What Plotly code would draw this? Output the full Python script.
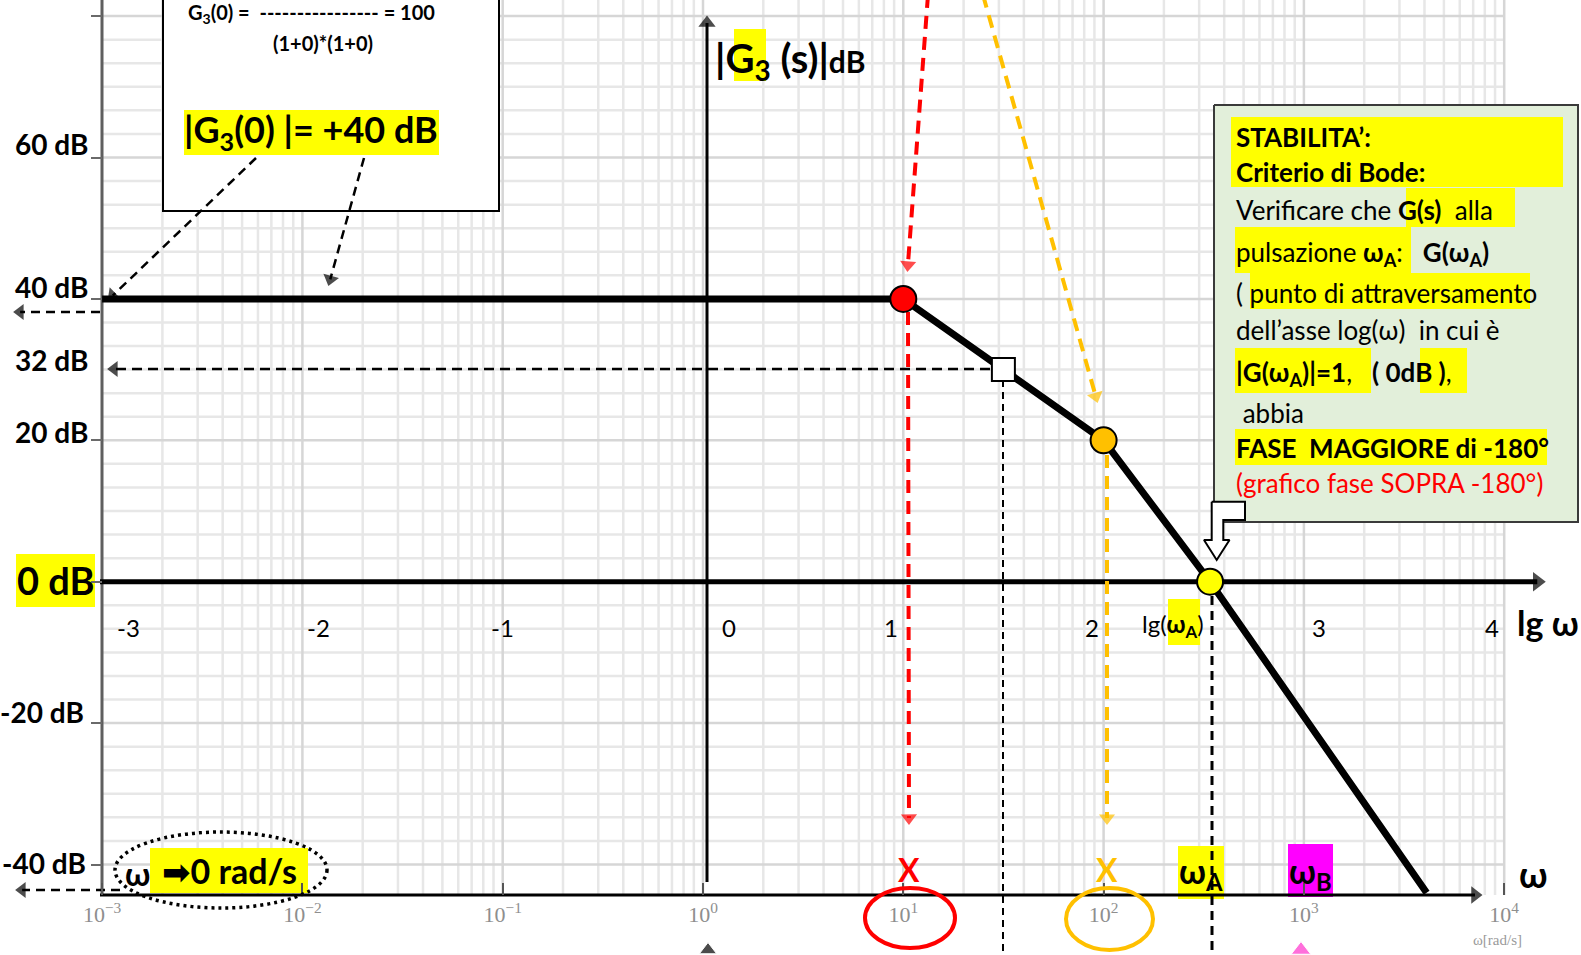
import math
import numpy as np
import plotly.graph_objects as go

# ---------------- data ----------------
omega_curve = [0.001, 10, 100, 340, 4100]        # rad/s
mag_curve_db = [40, 40, 20, 0, -44]              # |G3(jw)| asymptotic, dB

key_omega = [10, 100, 340]                        # break points and crossover wA
key_db = [40, 20, 0]
key_colors = ["#FF0000", "#FFC000", "#FFFF00"]

mid_omega = [31.6]                                # point read at ~32 dB
mid_db = [30]

decade_exp = [-3, -2, -1, 0, 1, 2, 3, 4]
decade_text = ["10<sup>−3</sup>", "10<sup>−2</sup>", "10<sup>−1</sup>", "10<sup>0</sup>",
               "10<sup>1</sup>", "10<sup>2</sup>", "10<sup>3</sup>", "10<sup>4</sup>"]
lg_text = ["-3", "-2", "-1", "0", "1", "2", "3", "4"]

db_tick_vals = [80, 60, 40, 20, 0, -20, -40]
db_label_vals = [60, 40, 32, 20, -20, -40]
db_label_text = ["60 dB", "40 dB", "32 dB", "20 dB", "-20 dB", "-40 dB"]
db_axis_min = -44.3

# ---------------- page geometry ----------------
W, H = 1581, 955
PX0, PPD = 703.0, 200.3     # pixel of 10^0, pixels per decade
PY0, PPDB = 581.7, 7.07     # pixel of 0 dB, pixels per dB


def X(px):
    return (px - PX0) / PPD


def Y(py):
    return (PY0 - py) / PPDB


xr = [X(0), X(W)]
yr = [Y(H), Y(0)]
FONT = "Lato, 'Noto Sans', 'DejaVu Sans', sans-serif"
SERIF = "'Liberation Serif', 'DejaVu Serif', serif"
NB = "\u00a0"

fig = go.Figure()

# ---------------- grid ----------------
gx_min, gy_min, gx_maj, gy_maj = [], [], [], []
for d in range(-3, 4):
    for m in range(2, 10):
        k = d + math.log10(m)
        gx_min += [k, k, None]
        gy_min += [db_axis_min, yr[1] + 1, None]
for k in decade_exp[1:]:
    gx_maj += [k, k, None]
    gy_maj += [db_axis_min, yr[1] + 1, None]
hx_min, hy_min, hx_maj, hy_maj = [], [], [], []
j = 0
while -40 + j * 10 / 3 <= yr[1]:
    v = -40 + j * 10 / 3
    if j % 6 == 0:
        hx_maj += [-3, 4, None]; hy_maj += [v, v, None]
    else:
        hx_min += [-3, 4, None]; hy_min += [v, v, None]
    j += 1
for gx, gy, col in [(gx_min, gy_min, "#e7e7e7"), (hx_min, hy_min, "#e7e7e7"),
                    (gx_maj, gy_maj, "#d6d6d6"), (hx_maj, hy_maj, "#d6d6d6")]:
    fig.add_trace(go.Scatter(x=gx, y=gy, mode="lines", line=dict(color=col, width=2.5),
                             hoverinfo="skip", showlegend=False))


def rect_trace(x0, y0, x1, y1, fill, lc=None, lw=0):
    fig.add_trace(go.Scatter(x=[X(x0), X(x1), X(x1), X(x0), X(x0)],
                             y=[Y(y0), Y(y0), Y(y1), Y(y1), Y(y0)],
                             mode="lines", fill="toself", fillcolor=fill,
                             line=dict(color=lc or fill, width=lw),
                             hoverinfo="skip", showlegend=False))


def poly_trace(pts, fill, lc, lw):
    xs = [X(p[0]) for p in pts] + [X(pts[0][0])]
    ys = [Y(p[1]) for p in pts] + [Y(pts[0][1])]
    fig.add_trace(go.Scatter(x=xs, y=ys, mode="lines", fill="toself", fillcolor=fill,
                             line=dict(color=lc, width=lw), hoverinfo="skip", showlegend=False))


def line_trace(p0, p1, color, width, dash="solid"):
    fig.add_trace(go.Scatter(x=[X(p0[0]), X(p1[0])], y=[Y(p0[1]), Y(p1[1])], mode="lines",
                             line=dict(color=color, width=width, dash=dash),
                             hoverinfo="skip", showlegend=False))


def arrow_trace(tail, tip, color, width, dash="solid", head=14):
    (x0, y0), (x1, y1) = tail, tip
    L = math.hypot(x1 - x0, y1 - y0)
    ux, uy = (x1 - x0) / L, (y1 - y0) / L
    cx, cy = x1 - 0.866 * head * ux, y1 - 0.866 * head * uy
    fig.add_trace(go.Scatter(x=[X(x0), X(cx)], y=[Y(y0), Y(cy)], mode="lines+markers",
                             line=dict(color=color, width=width, dash=dash),
                             marker=dict(symbol="triangle-up", size=[0, head], color=color,
                                         angleref="previous", line=dict(width=0)),
                             hoverinfo="skip", showlegend=False))


# ---------------- boxes and highlights ----------------
rect_trace(163, -10, 499, 211, "white", "black", 2)
rect_trace(184, 110, 439, 155, "#FFFF00")
rect_trace(734, 29, 766, 81, "#FFFF00")
rect_trace(16, 554, 95, 607, "#FFFF00")
rect_trace(150, 848, 308, 893, "#FFFF00")
rect_trace(1168, 599, 1200, 645, "#FFFF00")
rect_trace(1178, 846, 1224, 899, "#FFFF00")
rect_trace(1288, 844, 1333, 897, "#FF00FF")
# green note box
rect_trace(1214, 105, 1578, 522, "#E2EFDA", "#3a3a3a", 2)
rect_trace(1231, 117, 1563, 187, "#FFFF00")
rect_trace(1406, 188, 1515, 227, "#FFFF00")
rect_trace(1235, 227, 1411, 273, "#FFFF00")
rect_trace(1250, 273, 1530, 309, "#FFFF00")
rect_trace(1235, 348, 1371, 393, "#FFFF00")
rect_trace(1420, 348, 1467, 393, "#FFFF00")
rect_trace(1235, 429, 1547, 465, "#FFFF00")
# bent call-out arrow
poly_trace([(1211.7, 501.7), (1245, 501.7), (1245, 520), (1223.3, 520), (1223.3, 540),
            (1229.5, 540), (1216.7, 560), (1204, 540), (1211.7, 540)], "white", "black", 2)

# ---------------- axes ----------------
line_trace((102, -5), (102, 895), "#5f5f5f", 3)
arrow_trace((100, PY0), (1552, PY0), "black", 5, head=17)
arrow_trace((100, 895), (1488, 895), "black", 3, head=15)
arrow_trace((707, 882), (707, 10), "black", 3, head=15)

# ---------------- guide arrows ----------------
dsh = "9px,6px"
arrow_trace((256, 158), (104, 304), "black", 2.5, dsh, 14)
arrow_trace((364, 158), (327, 291), "black", 2.5, dsh, 14)
arrow_trace((100, 312), (8, 312), "black", 2.5, dsh, 14)
arrow_trace((120, 890), (10, 890), "black", 2.5, dsh, 14)
arrow_trace((990, 369), (102, 369), "black", 2.5, "10px,6px", 14)
line_trace((1003, 380), (1003, 960), "black", 2, "7px,5px")
line_trace((1212, 596), (1212, 960), "black", 3, "9px,6px")
arrow_trace((928, -5), (907, 277), "#FF0000", 4, "13px,8px", 14)
arrow_trace((908, 312), (909, 830), "#FF0000", 4, "13px,8px", 14)
arrow_trace((983, -5), (1099, 408), "#FFC000", 4, "13px,8px", 14)
arrow_trace((1107, 455), (1107, 830), "#FFC000", 4, "13px,8px", 14)

# ---------------- the Bode magnitude curve ----------------
fig.add_trace(go.Scatter(x=np.log10(omega_curve), y=mag_curve_db, mode="lines",
                         line=dict(color="black", width=7), hoverinfo="skip", showlegend=False))
fig.add_trace(go.Scatter(x=np.log10(mid_omega), y=mid_db, mode="markers",
                         marker=dict(symbol="square", size=23, color="white",
                                     line=dict(color="black", width=2)),
                         hoverinfo="skip", showlegend=False))
fig.add_trace(go.Scatter(x=np.log10(key_omega), y=key_db, mode="markers",
                         marker=dict(symbol="circle", size=26, color=key_colors,
                                     line=dict(color="black", width=2)),
                         hoverinfo="skip", showlegend=False))
# small triangles at the bottom edge
fig.add_trace(go.Scatter(x=[X(708), X(1301)], y=[Y(950), Y(950)], mode="markers",
                         marker=dict(symbol="triangle-up", size=[15, 17], color=["black", "#FF33CC"]),
                         hoverinfo="skip", showlegend=False))

# ---------------- shapes (ellipses) ----------------
shapes = [
    dict(type="circle", xref="x", yref="y", x0=X(865), x1=X(955), y0=Y(888), y1=Y(948),
         line=dict(color="#FF0000", width=4), layer="above"),
    dict(type="circle", xref="x", yref="y", x0=X(1066), x1=X(1153), y0=Y(888), y1=Y(950),
         line=dict(color="#FFC000", width=4), layer="above"),
    dict(type="circle", xref="x", yref="y", x0=X(115), x1=X(327), y0=Y(832), y1=Y(908),
         line=dict(color="black", width=3.5, dash="3px,4px"), layer="above"),
]

# ---------------- text ----------------
ann = []


def T(text, px, py, size, color="black", xanchor="center", family=FONT, yanchor="middle"):
    ann.append(dict(text=text, x=X(px), y=Y(py), xref="x", yref="y", showarrow=False,
                    font=dict(size=size, color=color, family=family),
                    xanchor=xanchor, yanchor=yanchor, borderpad=0))


for v, t, sh, xr_px in zip(db_label_vals, db_label_text, [14, 12, -4.5, 8, 11, 2],
                           [90, 90, 90, 90, 86, 88]):
    ann.append(dict(text="<b>%s</b>" % t, x=X(xr_px), y=v, yshift=sh, xref="x", yref="y",
                    showarrow=False, font=dict(size=28, color="black", family=FONT),
                    xanchor="right", yanchor="middle"))
T("<b>0 dB</b>", 55.5, 580, 38)

lg_px = [128, 318, 502, 729, 891, 1092, 1319, 1492]
for t, px in zip(lg_text, lg_px):
    T(t, px, 627, 24)
T("lg(<b>ω<sub>A</sub></b>)", 1173, 625, 24)
T("<b>lg ω</b>", 1516, 622, 34, xanchor="left")
T("<b>ω</b>", 1518, 874, 36, xanchor="left")
T("<b>ω<sub>A</sub></b>", 1201, 873, 34)
T("<b>ω<sub>B</sub></b>", 1310, 873, 34)
T("<b>X</b>", 909, 869, 32, color="#FF0000")
T("<b>X</b>", 1107, 869, 32, color="#FFC000")
T("<b>ω</b>", 137, 873, 32)
T("<b>➡0 rad/s</b>", 229, 870, 34)
T("ω[rad/s]", 1497, 940, 15, color="#9a9a9a", family=SERIF)

T("<b>|G<sub>3</sub>" + NB + "(s)|</b><b><span style='font-size:30px'>dB</span></b>", 714, 60, 40,
  xanchor="left")

T("<b>G<sub>3</sub>(0) =" + NB * 2 + "----------------" + NB + "= 100</b>", 311, 13, 20)
T("<b>(1+0)*(1+0)</b>", 323, 43, 20)
T("<b>|G<sub>3</sub>(0)" + NB + "|= +40 dB</b>", 311, 131, 36)

box_lines = [
    ("<b>STABILITA’:</b>", 137, 1235),
    ("<b>Criterio di Bode:</b>", 172, 1235),
    ("Verificare che <b>G(s)</b>" + NB * 2 + "alla", 210, 1235),
    ("pulsazione <b>ω<sub>A</sub></b>:" + NB * 3 + "<b>G(ω<sub>A</sub>)</b>", 253, 1235),
    ("(" + NB + "punto di attraversamento", 293, 1235),
    ("dell’asse log(ω)" + NB * 2 + "in cui è", 330, 1235),
    ("<b>|G(ω<sub>A</sub>)|=1</b>," + NB * 3 + "<b>(" + NB + "0dB" + NB + ")</b>,", 373, 1235),
    (NB + "abbia", 413, 1235),
    ("<b>FASE" + NB * 2 + "MAGGIORE di -180°</b>", 448, 1235),
    ("<span style='color:#FF0000'>(grafico fase SOPRA -180°)</span>", 483, 1235),
]
for t, py, px in box_lines:
    T(t, px, py, 26, xanchor="left")

fig.update_layout(
    width=W, height=H, margin=dict(l=0, r=0, t=0, b=0),
    paper_bgcolor="white", plot_bgcolor="white", showlegend=False,
    xaxis=dict(range=xr, showgrid=False, zeroline=False, showline=False,
               anchor="free", position=(db_axis_min - yr[0]) / (yr[1] - yr[0]),
               tickmode="array", tickvals=decade_exp, ticktext=decade_text,
               ticks="inside", ticklen=12, tickwidth=2, tickcolor="#555",
               ticklabelstandoff=4,
               tickfont=dict(family=SERIF, size=22, color="#8e8e8e")),
    yaxis=dict(range=yr, showgrid=False, zeroline=False, showline=False,
               anchor="free", position=(-3 - xr[0]) / (xr[1] - xr[0]),
               tickmode="array", tickvals=db_tick_vals, showticklabels=False,
               ticks="outside", ticklen=11, tickwidth=2, tickcolor="#6a6a6a"),
    shapes=shapes, annotations=ann,
)

fig.write_html("out.html", config={"displayModeBar": False},
               post_script="document.body.style.margin='0';document.body.style.overflow='hidden';")
